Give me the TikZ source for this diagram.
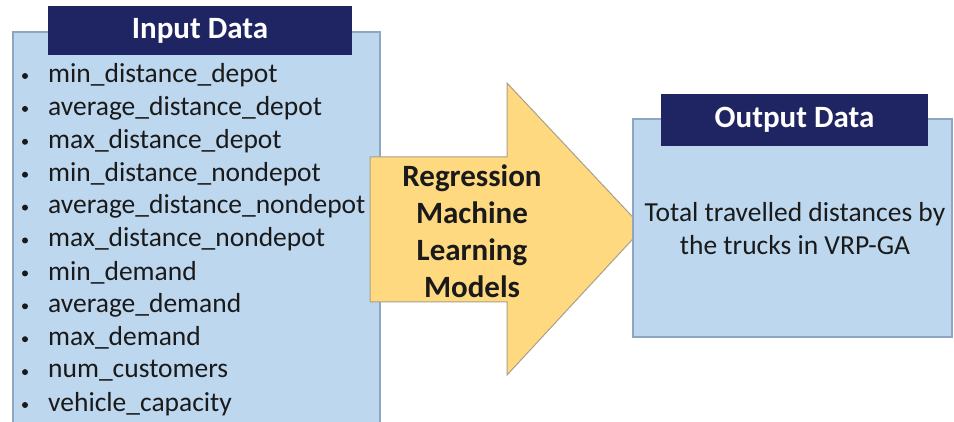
\documentclass[tikz,border=0pt]{standalone}
\usepackage{fontspec}
\setmainfont{Carlito}
\usetikzlibrary{positioning}

\definecolor{boxblue}{HTML}{BDD7EE}
\definecolor{boxline}{HTML}{8EA6C4}
\definecolor{navy}{HTML}{1F2462}
\definecolor{arrowfill}{HTML}{FFD980}
\definecolor{arrowline}{HTML}{A8A08A}
\definecolor{textdark}{HTML}{1A1A1A}

\tikzset{
  databox/.style={fill=boxblue, draw=boxline, line width=1.2pt},
  headbox/.style={fill=navy, text=white, inner sep=0pt,
    font=\fontsize{31}{34}\selectfont\bfseries},
  listitem/.style={anchor=west, inner sep=0pt, text=textdark,
    font=\fontsize{27.5}{30}\selectfont},
  dot/.style={circle, fill=textdark, inner sep=0pt, minimum size=6pt},
}

\begin{document}
\begin{tikzpicture}[x=1pt, y=-1pt]

\clip (0,0) rectangle (954,422);

% Input box with the feature list
\draw[databox] (13,32) rectangle (380,440);
\node[headbox, minimum width=304pt, minimum height=49pt] (inhead) at (200,31) {Input Data};

\foreach \feat [count=\i] in {min\_distance\_depot, average\_distance\_depot,
    max\_distance\_depot, min\_distance\_nondepot, average\_distance\_nondepot,
    max\_distance\_nondepot, min\_demand, average\_demand, max\_demand,
    num\_customers, vehicle\_capacity} {
  \node[dot] (bul\i) at (25,{76+32.9*(\i-1)}) {};
  \node[listitem] (feat\i) at (48,{75+32.9*(\i-1)}) {\feat};
}

% Block arrow for the models
\draw[fill=arrowfill, draw=arrowline, line width=1pt]
  (370,157) -- (507,157) -- (507,83) -- (643,228) -- (507,375)
  -- (507,302) -- (370,302) -- cycle;
\node[align=center, text=textdark, font=\fontsize{31}{37}\selectfont\bfseries] (model)
  at (472,231) {Regression\\Machine\\Learning\\Models};

% Output box
\draw[databox] (633,119) rectangle (952,337);
\node[headbox, minimum width=267pt, minimum height=52pt] (outhead) at (794.5,120) {Output Data};
\node[align=center, text=textdark, font=\fontsize{27.5}{33}\selectfont] (result)
  at (795,229) {Total travelled distances by\\the trucks in VRP-GA};

\end{tikzpicture}
\end{document}
